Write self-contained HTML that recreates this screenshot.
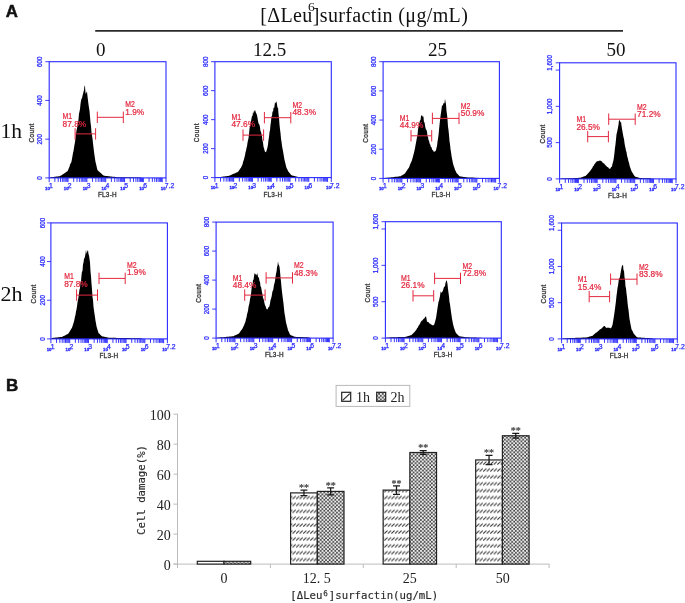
<!DOCTYPE html>
<html><head><meta charset="utf-8"><title>Figure</title>
<style>
html,body{margin:0;padding:0;background:#fff;}
body{width:685px;height:603px;overflow:hidden;position:relative;}
svg{position:absolute;left:0;top:0;display:block;}
text{font-family:"Liberation Sans",sans-serif;}
.yt{font-size:6.3px;fill:#2a2aff;stroke:#2a2aff;stroke-width:0.25px;}
.xb{font-size:4.3px;font-weight:bold;fill:#2a2aff;stroke:#2a2aff;stroke-width:0.3px;}
.xs{font-size:6.8px;fill:#2a2aff;stroke:#2a2aff;stroke-width:0.25px;}
.ax{font-size:6.4px;fill:#333;stroke:#333;stroke-width:0.3px;}
.mk{font-size:8.3px;fill:#e3283f;stroke:#e3283f;stroke-width:0.22px;}
.ser{font-family:"Liberation Serif",serif;fill:#111;}
.by,.bx,.lg{font-family:"Liberation Serif","Noto Serif CJK SC",serif;font-size:14px;fill:#222;}
.st{font-family:"Liberation Serif",serif;font-size:10px;fill:#505050;stroke:#505050;stroke-width:0.25px;}
.mono{font-family:"DejaVu Sans Mono","Liberation Mono",monospace;font-size:10.68px;fill:#2a2a2a;stroke:#2a2a2a;stroke-width:0.15px;}
</style></head><body>
<svg width="685" height="603" viewBox="0 0 685 603">
<defs>
<filter id="idf" x="0" y="0" width="685" height="603" filterUnits="userSpaceOnUse"><feOffset dx="0" dy="0"/></filter>
<pattern id="p1" width="3.53" height="6.9" patternUnits="userSpaceOnUse" x="476.0" y="495.5"><rect width="3.53" height="6.9" fill="#fff"/><path d="M0.25,3.5L3.25,0.5" stroke="#303030" stroke-width="0.95"/></pattern>
<pattern id="p2" width="3.65" height="3.65" patternUnits="userSpaceOnUse" x="317.9" y="491.6"><rect width="3.65" height="3.65" fill="#404040"/><path d="M0.91,-0.49L2.31,0.91L0.91,2.31L-0.49,0.91ZM2.74,1.335L4.14,2.735L2.74,4.135L1.34,2.735Z" fill="#fff"/></pattern>
</defs>
<rect width="685" height="603" fill="#fff"/>
<g filter="url(#idf)">
<text x="5.7" y="16.9" font-size="16.8" font-weight="bold" fill="#111" stroke="#111" stroke-width="0.5">A</text>
<text x="5.9" y="391.1" font-size="17" font-weight="bold" fill="#111" stroke="#111" stroke-width="0.5">B</text>
<text class="ser" x="260.3" y="21.5" font-size="20" letter-spacing="0.36">[ΔLeu]surfactin (μg/mL)</text>
<text class="ser" x="308.1" y="10.6" font-size="13.5">6</text>
<line x1="95.2" y1="30.9" x2="623" y2="30.9" stroke="#2a2a2a" stroke-width="1.6"/>
<text class="ser" x="100.8" y="55.8" font-size="19" text-anchor="middle">0</text>
<text class="ser" x="269.7" y="55.8" font-size="19" text-anchor="middle">12.5</text>
<text class="ser" x="437.5" y="55.8" font-size="19" text-anchor="middle">25</text>
<text class="ser" x="616" y="55.8" font-size="19" text-anchor="middle">50</text>
<text class="ser" x="0.6" y="137.7" font-size="21.5">1h</text>
<text class="ser" x="0.6" y="300.8" font-size="22">2h</text>
<path d="M50.2,177.9 L50.2,177.6 L50,177.2 L50.5,177.2 L51,177.2 L51.5,177.2 L52,177.16 L52.5,177.09 L53,177.02 L53.5,176.94 L54,176.92 L54.5,176.86 L55,176.74 L55.5,176.7 L56,176.61 L56.5,176.6 L57,176.5 L57.5,176.41 L58,176.38 L58.5,176.25 L59,176.18 L59.5,176.21 L60,176.14 L60.5,175.83 L61,175.44 L61.5,175.19 L62,174.89 L62.5,174.52 L63,174.27 L63.5,173.9 L64,173.52 L64.5,173.17 L65,172.92 L65.5,172.59 L66,172.27 L66.5,171.85 L67,171.58 L67.5,171.36 L68,170.21 L68.5,169.02 L69,167.66 L69.5,166.66 L70,164.76 L70.5,163.53 L71,162.88 L71.5,161.4 L72,158.7 L72.5,156.01 L73,152.98 L73.5,151.08 L74,147.7 L74.5,144.75 L75,142.01 L75.5,137.88 L76,133.67 L76.5,130.48 L77,128.22 L77.5,124.73 L78,123.37 L78.5,119.32 L79,113.7 L79.5,111.6 L80,109.06 L80.5,103.9 L81,100.79 L81.5,98.82 L82,98.16 L82.5,95.77 L83,94.08 L83.5,91.64 L84,90.26 L84.5,85.47 L85,86.16 L85.5,93.07 L86,94.03 L86.5,91.77 L87,91.89 L87.5,96.33 L88,100.41 L88.5,104.52 L89,107.83 L89.5,110.96 L90,116.86 L90.5,122.42 L91,125.9 L91.5,132.19 L92,135.59 L92.5,138.47 L93,143.24 L93.5,147.41 L94,151.71 L94.5,155.27 L95,158.75 L95.5,162.07 L96,163.67 L96.5,166.01 L97,168.33 L97.5,170.18 L98,170.59 L98.5,171.15 L99,171.57 L99.5,172.05 L100,172.6 L100.5,172.78 L101,173.31 L101.5,173.84 L102,174.2 L102.5,174.63 L103,175.09 L103.5,175.52 L104,175.75 L104.5,175.79 L105,175.85 L105.5,175.92 L106,176.02 L106.5,176.05 L107,176.11 L107.5,176.11 L108,176.14 L108.5,176.2 L109,176.25 L109.5,176.3 L110,176.41 L110.5,176.41 L111,176.47 L111.5,176.57 L112,176.63 L112.5,176.68 L113,176.68 L113.5,176.76 L114,176.83 L114.5,176.84 L115,176.91 L115.5,176.98 L116,177.03 L116.5,177.06 L117,177.13 L117.5,177.17 L118,177.2 L118.5,177.2 L119,177.2 L119.5,177.2 L120,177.2 L141,177.6 L141,177.9 Z" fill="#000"/>
<rect x="49.2" y="61.7" width="116.8" height="116.2" fill="none" stroke="#2a2aff" stroke-width="1.1"/>
<line x1="45.3" y1="61.7" x2="49.2" y2="61.7" stroke="#2a2aff" stroke-width="0.9"/>
<text class="yt" transform="translate(42,61.7) rotate(-90)" text-anchor="middle">600</text>
<line x1="45.3" y1="100.43" x2="49.2" y2="100.43" stroke="#2a2aff" stroke-width="0.9"/>
<text class="yt" transform="translate(42,100.43) rotate(-90)" text-anchor="middle">400</text>
<line x1="45.3" y1="139.17" x2="49.2" y2="139.17" stroke="#2a2aff" stroke-width="0.9"/>
<text class="yt" transform="translate(42,139.17) rotate(-90)" text-anchor="middle">200</text>
<line x1="45.3" y1="177.9" x2="49.2" y2="177.9" stroke="#2a2aff" stroke-width="0.9"/>
<text class="yt" transform="translate(42,177.9) rotate(-90)" text-anchor="middle">0</text>
<path d="M49.2,177.9v4.3M54.87,177.9v4M58.19,177.9v4M60.54,177.9v4M62.37,177.9v4M63.86,177.9v4M65.12,177.9v4M66.21,177.9v4M67.18,177.9v4M68.04,177.9v4.3M73.71,177.9v4M77.03,177.9v4M79.38,177.9v4M81.21,177.9v4M82.7,177.9v4M83.96,177.9v4M85.05,177.9v4M86.02,177.9v4M86.88,177.9v4.3M92.55,177.9v4M95.87,177.9v4M98.22,177.9v4M100.05,177.9v4M101.54,177.9v4M102.8,177.9v4M103.89,177.9v4M104.85,177.9v4M105.72,177.9v4.3M111.39,177.9v4M114.7,177.9v4M117.06,177.9v4M118.88,177.9v4M120.38,177.9v4M121.64,177.9v4M122.73,177.9v4M123.69,177.9v4M124.55,177.9v4.3M130.23,177.9v4M133.54,177.9v4M135.9,177.9v4M137.72,177.9v4M139.21,177.9v4M140.48,177.9v4M141.57,177.9v4M142.53,177.9v4M143.39,177.9v4.3M149.06,177.9v4M152.38,177.9v4M154.74,177.9v4M156.56,177.9v4M158.05,177.9v4M159.31,177.9v4M160.41,177.9v4M161.37,177.9v4M162.23,177.9v4.3M166,177.9v4.3" stroke="#2a2aff" stroke-width="0.95" fill="none"/>
<text class="xb" x="49.8" y="189.6" text-anchor="end">10</text>
<text class="xs" x="49" y="187.8">1</text>
<text class="xb" x="68.64" y="189.6" text-anchor="end">10</text>
<text class="xs" x="67.84" y="187.8">2</text>
<text class="xb" x="87.48" y="189.6" text-anchor="end">10</text>
<text class="xs" x="86.68" y="187.8">3</text>
<text class="xb" x="106.32" y="189.6" text-anchor="end">10</text>
<text class="xs" x="105.52" y="187.8">4</text>
<text class="xb" x="125.15" y="189.6" text-anchor="end">10</text>
<text class="xs" x="124.35" y="187.8">5</text>
<text class="xb" x="143.99" y="189.6" text-anchor="end">10</text>
<text class="xs" x="143.19" y="187.8">6</text>
<text class="xb" x="165.6" y="189.6" text-anchor="end">10</text>
<text class="xs" x="164.8" y="187.8">7.2</text>
<text class="ax" letter-spacing="0.45" transform="translate(34.2,132.8) rotate(-90)" text-anchor="middle">Count</text>
<text class="ax" letter-spacing="0.25" x="107.4" y="196.9" text-anchor="middle">FL3-H</text>
<path d="M75.1,133.9H95.6M75.1,128.2v11.4M95.6,128.2v11.4" stroke="#e3283f" stroke-width="1" fill="none"/>
<path d="M97.3,117.3H123.3M97.3,111.6v11.4M123.3,111.6v11.4" stroke="#e3283f" stroke-width="1" fill="none"/>
<text class="mk" x="62.6" y="118.5" textLength="9.6" lengthAdjust="spacingAndGlyphs">M1</text>
<text class="mk" x="62.6" y="126.5">87.8%</text>
<text class="mk" x="125.3" y="106.8" textLength="9.6" lengthAdjust="spacingAndGlyphs">M2</text>
<text class="mk" x="125.3" y="114.8">1.9%</text>
<path d="M215.9,177.6 L215.9,177.3 L220,176.9 L220.5,176.9 L221,176.9 L221.5,176.83 L222,176.73 L222.5,176.67 L223,176.6 L223.5,176.56 L224,176.47 L224.5,176.41 L225,176.34 L225.5,176.31 L226,176.22 L226.5,176.16 L227,176.06 L227.5,175.97 L228,175.9 L228.5,175.88 L229,175.81 L229.5,175.61 L230,175.43 L230.5,175.22 L231,174.94 L231.5,174.74 L232,174.52 L232.5,174.2 L233,174.05 L233.5,173.83 L234,173.69 L234.5,173.53 L235,173.23 L235.5,173.07 L236,172.75 L236.5,172.38 L237,172.26 L237.5,172.2 L238,171.75 L238.5,171.24 L239,170.49 L239.5,169.64 L240,168.93 L240.5,168.15 L241,167.64 L241.5,166.48 L242,165.6 L242.5,164.53 L243,162.36 L243.5,160.71 L244,159.3 L244.5,157.24 L245,155.15 L245.5,152.37 L246,150.85 L246.5,147.97 L247,146.32 L247.5,142.76 L248,140.17 L248.5,138.21 L249,133.94 L249.5,128.92 L250,125.73 L250.5,123.46 L251,121.37 L251.5,118.52 L252,115.66 L252.5,116.14 L253,112.04 L253.5,113.68 L254,110.32 L254.5,111.87 L255,109.65 L255.5,111.43 L256,112.99 L256.5,113.71 L257,115.27 L257.5,117.76 L258,120.97 L258.5,123.24 L259,124.13 L259.5,124.73 L260,127.6 L260.5,131.29 L261,131.64 L261.5,134.36 L262,136.38 L262.5,140.62 L263,142.42 L263.5,146.76 L264,148.27 L264.5,150.28 L265,151.69 L265.5,152.06 L266,152.34 L266.5,150.7 L267,149.14 L267.5,147.26 L268,144.38 L268.5,139.95 L269,136.99 L269.5,132.22 L270,130.18 L270.5,124.87 L271,121.19 L271.5,116.37 L272,116.35 L272.5,110.78 L273,112.45 L273.5,107.59 L274,108.58 L274.5,106.04 L275,102.04 L275.5,103.45 L276,102.01 L276.5,101.44 L277,104.56 L277.5,107.88 L278,107.15 L278.5,113.78 L279,117.8 L279.5,124.59 L280,129.37 L280.5,133.06 L281,138.63 L281.5,141.75 L282,145.82 L282.5,148.49 L283,151.11 L283.5,154.11 L284,156.88 L284.5,159.97 L285,161.82 L285.5,163.91 L286,166.02 L286.5,167.94 L287,168.69 L287.5,169.86 L288,170.94 L288.5,171.79 L289,172.35 L289.5,173.12 L290,173.55 L290.5,174.14 L291,174.66 L291.5,175.27 L292,175.4 L292.5,175.62 L293,175.7 L293.5,175.85 L294,176.01 L294.5,176.08 L295,176.24 L295.5,176.37 L296,176.49 L296.5,176.61 L297,176.73 L297.5,176.83 L298,176.88 L298.5,176.88 L299,176.9 L299.5,176.91 L300,176.96 L300.5,176.97 L301,177 L301.5,177 L302,177.02 L302.5,177.03 L303,177.05 L303.5,177.09 L304,177.1 L304.5,177.11 L305,177.15 L305.5,177.16 L306,177.17 L306.5,177.2 L307,177.2 L307.5,177.23 L308,177.25 L308.5,177.27 L309,177.28 L309.5,177.3 L310,177.3 L306.3,177.3 L306.3,177.6 Z" fill="#000"/>
<rect x="214.9" y="61.7" width="116.4" height="115.9" fill="none" stroke="#2a2aff" stroke-width="1.1"/>
<line x1="211" y1="61.7" x2="214.9" y2="61.7" stroke="#2a2aff" stroke-width="0.9"/>
<text class="yt" transform="translate(207.8,61.7) rotate(-90)" text-anchor="middle">800</text>
<line x1="211" y1="90.67" x2="214.9" y2="90.67" stroke="#2a2aff" stroke-width="0.9"/>
<text class="yt" transform="translate(207.8,90.67) rotate(-90)" text-anchor="middle">600</text>
<line x1="211" y1="119.65" x2="214.9" y2="119.65" stroke="#2a2aff" stroke-width="0.9"/>
<text class="yt" transform="translate(207.8,119.65) rotate(-90)" text-anchor="middle">400</text>
<line x1="211" y1="148.62" x2="214.9" y2="148.62" stroke="#2a2aff" stroke-width="0.9"/>
<text class="yt" transform="translate(207.8,148.62) rotate(-90)" text-anchor="middle">200</text>
<line x1="211" y1="177.6" x2="214.9" y2="177.6" stroke="#2a2aff" stroke-width="0.9"/>
<text class="yt" transform="translate(207.8,177.6) rotate(-90)" text-anchor="middle">0</text>
<path d="M214.9,177.6v4.3M220.55,177.6v4M223.86,177.6v4M226.2,177.6v4M228.02,177.6v4M229.51,177.6v4M230.77,177.6v4M231.85,177.6v4M232.82,177.6v4M233.67,177.6v4.3M239.33,177.6v4M242.63,177.6v4M244.98,177.6v4M246.8,177.6v4M248.28,177.6v4M249.54,177.6v4M250.63,177.6v4M251.59,177.6v4M252.45,177.6v4.3M258.1,177.6v4M261.41,177.6v4M263.75,177.6v4M265.57,177.6v4M267.06,177.6v4M268.31,177.6v4M269.4,177.6v4M270.36,177.6v4M271.22,177.6v4.3M276.87,177.6v4M280.18,177.6v4M282.53,177.6v4M284.35,177.6v4M285.83,177.6v4M287.09,177.6v4M288.18,177.6v4M289.14,177.6v4M290,177.6v4.3M295.65,177.6v4M298.95,177.6v4M301.3,177.6v4M303.12,177.6v4M304.61,177.6v4M305.86,177.6v4M306.95,177.6v4M307.91,177.6v4M308.77,177.6v4.3M314.42,177.6v4M317.73,177.6v4M320.07,177.6v4M321.89,177.6v4M323.38,177.6v4M324.64,177.6v4M325.73,177.6v4M326.69,177.6v4M327.55,177.6v4.3M331.3,177.6v4.3" stroke="#2a2aff" stroke-width="0.95" fill="none"/>
<text class="xb" x="215.5" y="189.3" text-anchor="end">10</text>
<text class="xs" x="214.7" y="187.5">1</text>
<text class="xb" x="234.27" y="189.3" text-anchor="end">10</text>
<text class="xs" x="233.47" y="187.5">2</text>
<text class="xb" x="253.05" y="189.3" text-anchor="end">10</text>
<text class="xs" x="252.25" y="187.5">3</text>
<text class="xb" x="271.82" y="189.3" text-anchor="end">10</text>
<text class="xs" x="271.02" y="187.5">4</text>
<text class="xb" x="290.6" y="189.3" text-anchor="end">10</text>
<text class="xs" x="289.8" y="187.5">5</text>
<text class="xb" x="309.37" y="189.3" text-anchor="end">10</text>
<text class="xs" x="308.57" y="187.5">6</text>
<text class="xb" x="330.9" y="189.3" text-anchor="end">10</text>
<text class="xs" x="330.1" y="187.5">7.2</text>
<text class="ax" letter-spacing="0.45" transform="translate(199.4,132.65) rotate(-90)" text-anchor="middle">Count</text>
<text class="ax" letter-spacing="0.25" x="272.9" y="196.6" text-anchor="middle">FL3-H</text>
<path d="M243,135.1H263.6M243,129.4v11.4M263.6,129.4v11.4" stroke="#e3283f" stroke-width="1" fill="none"/>
<path d="M264.4,117.7H290.8M264.4,112v11.4M290.8,112v11.4" stroke="#e3283f" stroke-width="1" fill="none"/>
<text class="mk" x="231.5" y="120" textLength="9.6" lengthAdjust="spacingAndGlyphs">M1</text>
<text class="mk" x="231.5" y="127">47.6%</text>
<text class="mk" x="292.5" y="108" textLength="9.6" lengthAdjust="spacingAndGlyphs">M2</text>
<text class="mk" x="292.5" y="115">48.3%</text>
<path d="M384.1,178.4 L384.1,178.1 L390,177.48 L390.5,177.4 L391,177.36 L391.5,177.28 L392,177.23 L392.5,177.21 L393,177.16 L393.5,177.04 L394,177.03 L394.5,176.97 L395,176.85 L395.5,176.84 L396,176.74 L396.5,176.72 L397,176.65 L397.5,176.64 L398,176.53 L398.5,176.45 L399,176.43 L399.5,176.35 L400,176.3 L400.5,176.29 L401,175.9 L401.5,175.62 L402,175.37 L402.5,175.13 L403,174.66 L403.5,174.44 L404,174.08 L404.5,173.73 L405,173.4 L405.5,172.55 L406,171.97 L406.5,171.03 L407,170.42 L407.5,169.39 L408,168.63 L408.5,168.33 L409,167.4 L409.5,166.17 L410,164.39 L410.5,163.64 L411,162.27 L411.5,161.4 L412,159.93 L412.5,158.31 L413,156.61 L413.5,154.52 L414,152.75 L414.5,150.42 L415,148.26 L415.5,145.25 L416,142.84 L416.5,139.98 L417,137.3 L417.5,135.11 L418,129.68 L418.5,126.69 L419,124.31 L419.5,122.87 L420,120.31 L420.5,120.32 L421,116.33 L421.5,115.57 L422,115.01 L422.5,117 L423,115.83 L423.5,117.33 L424,122.49 L424.5,122.08 L425,125.3 L425.5,128.02 L426,129.48 L426.5,130.02 L427,131.86 L427.5,136.18 L428,136.82 L428.5,140.29 L429,140.61 L429.5,143.34 L430,144.08 L430.5,145.38 L431,147.13 L431.5,147.06 L432,149.14 L432.5,150.37 L433,150 L433.5,151.44 L434,151.66 L434.5,151.81 L435,151.3 L435.5,151.01 L436,150.19 L436.5,147.69 L437,145.98 L437.5,141.63 L438,138.69 L438.5,135.17 L439,129.97 L439.5,125.06 L440,120.18 L440.5,115.88 L441,112.68 L441.5,109.36 L442,105.14 L442.5,105.86 L443,105.06 L443.5,102.63 L444,103.87 L444.5,102.68 L445,98.63 L445.5,101.73 L446,104.24 L446.5,111.07 L447,114.25 L447.5,119.36 L448,126.76 L448.5,129.89 L449,134.88 L449.5,140.97 L450,144.13 L450.5,148.9 L451,151.98 L451.5,155.65 L452,158.38 L452.5,160.91 L453,163.52 L453.5,165.35 L454,166.8 L454.5,168.08 L455,169.66 L455.5,170.71 L456,171.82 L456.5,172.98 L457,173.51 L457.5,174.07 L458,174.6 L458.5,175.1 L459,175.7 L459.5,176.23 L460,176.3 L460.5,176.47 L461,176.48 L461.5,176.53 L462,176.65 L462.5,176.73 L463,176.75 L463.5,176.88 L464,176.96 L464.5,177.01 L465,177.06 L465.5,177.18 L466,177.24 L466.5,177.31 L467,177.35 L467.5,177.45 L468,177.45 L468.5,177.5 L469,177.5 L469.5,177.5 L470,177.5 L470.5,177.53 L471,177.56 L471.5,177.58 L472,177.57 L472.5,177.6 L473,177.58 L473.5,177.59 L474,177.63 L474.5,177.64 L475,177.63 L475.5,177.65 L476,177.65 L476.5,177.68 L477,177.7 L477.5,177.71 L478,177.7 L478.5,177.73 L479,177.74 L479.5,177.75 L480,177.76 L474.4,178.1 L474.4,178.4 Z" fill="#000"/>
<rect x="383.1" y="61.7" width="116.3" height="116.7" fill="none" stroke="#2a2aff" stroke-width="1.1"/>
<line x1="379.2" y1="61.7" x2="383.1" y2="61.7" stroke="#2a2aff" stroke-width="0.9"/>
<text class="yt" transform="translate(376,61.7) rotate(-90)" text-anchor="middle">800</text>
<line x1="379.2" y1="90.88" x2="383.1" y2="90.88" stroke="#2a2aff" stroke-width="0.9"/>
<text class="yt" transform="translate(376,90.88) rotate(-90)" text-anchor="middle">600</text>
<line x1="379.2" y1="120.05" x2="383.1" y2="120.05" stroke="#2a2aff" stroke-width="0.9"/>
<text class="yt" transform="translate(376,120.05) rotate(-90)" text-anchor="middle">400</text>
<line x1="379.2" y1="149.22" x2="383.1" y2="149.22" stroke="#2a2aff" stroke-width="0.9"/>
<text class="yt" transform="translate(376,149.22) rotate(-90)" text-anchor="middle">200</text>
<line x1="379.2" y1="178.4" x2="383.1" y2="178.4" stroke="#2a2aff" stroke-width="0.9"/>
<text class="yt" transform="translate(376,178.4) rotate(-90)" text-anchor="middle">0</text>
<path d="M383.1,178.4v4.3M388.75,178.4v4M392.05,178.4v4M394.39,178.4v4M396.21,178.4v4M397.7,178.4v4M398.95,178.4v4M400.04,178.4v4M401,178.4v4M401.86,178.4v4.3M407.5,178.4v4M410.81,178.4v4M413.15,178.4v4M414.97,178.4v4M416.45,178.4v4M417.71,178.4v4M418.8,178.4v4M419.76,178.4v4M420.62,178.4v4.3M426.26,178.4v4M429.57,178.4v4M431.91,178.4v4M433.73,178.4v4M435.21,178.4v4M436.47,178.4v4M437.56,178.4v4M438.52,178.4v4M439.37,178.4v4.3M445.02,178.4v4M448.32,178.4v4M450.67,178.4v4M452.49,178.4v4M453.97,178.4v4M455.23,178.4v4M456.31,178.4v4M457.27,178.4v4M458.13,178.4v4.3M463.78,178.4v4M467.08,178.4v4M469.43,178.4v4M471.24,178.4v4M472.73,178.4v4M473.98,178.4v4M475.07,178.4v4M476.03,178.4v4M476.89,178.4v4.3M482.54,178.4v4M485.84,178.4v4M488.18,178.4v4M490,178.4v4M491.49,178.4v4M492.74,178.4v4M493.83,178.4v4M494.79,178.4v4M495.65,178.4v4.3M499.4,178.4v4.3" stroke="#2a2aff" stroke-width="0.95" fill="none"/>
<text class="xb" x="383.7" y="190.1" text-anchor="end">10</text>
<text class="xs" x="382.9" y="188.3">1</text>
<text class="xb" x="402.46" y="190.1" text-anchor="end">10</text>
<text class="xs" x="401.66" y="188.3">2</text>
<text class="xb" x="421.22" y="190.1" text-anchor="end">10</text>
<text class="xs" x="420.42" y="188.3">3</text>
<text class="xb" x="439.97" y="190.1" text-anchor="end">10</text>
<text class="xs" x="439.17" y="188.3">4</text>
<text class="xb" x="458.73" y="190.1" text-anchor="end">10</text>
<text class="xs" x="457.93" y="188.3">5</text>
<text class="xb" x="477.49" y="190.1" text-anchor="end">10</text>
<text class="xs" x="476.69" y="188.3">6</text>
<text class="xb" x="498.4" y="190.1" text-anchor="end">10</text>
<text class="xs" x="497.6" y="188.3">7.2</text>
<text class="ax" letter-spacing="0.45" transform="translate(368.2,133.05) rotate(-90)" text-anchor="middle">Count</text>
<text class="ax" letter-spacing="0.25" x="441.05" y="197.4" text-anchor="middle">FL3-H</text>
<path d="M411,135.8H431.7M411,130.1v11.4M431.7,130.1v11.4" stroke="#e3283f" stroke-width="1" fill="none"/>
<path d="M432.4,118.4H459M432.4,112.7v11.4M459,112.7v11.4" stroke="#e3283f" stroke-width="1" fill="none"/>
<text class="mk" x="399.8" y="121.2" textLength="9.6" lengthAdjust="spacingAndGlyphs">M1</text>
<text class="mk" x="399.8" y="128">44.9%</text>
<text class="mk" x="460.8" y="109" textLength="9.6" lengthAdjust="spacingAndGlyphs">M2</text>
<text class="mk" x="460.8" y="116.3">50.9%</text>
<path d="M560.6,178.9 L560.6,178.6 L570,178.2 L570.5,178.2 L571,178.2 L571.5,178.2 L572,178.2 L572.5,178.2 L573,178.17 L573.5,178.14 L574,178.12 L574.5,178.11 L575,178.07 L575.5,178.06 L576,178.03 L576.5,178.01 L577,177.97 L577.5,177.9 L578,177.88 L578.5,177.85 L579,177.82 L579.5,177.84 L580,177.8 L580.5,177.73 L581,177.54 L581.5,177.34 L582,177.15 L582.5,177.05 L583,176.8 L583.5,176.6 L584,176.44 L584.5,176.31 L585,176.07 L585.5,175.96 L586,175.4 L586.5,174.91 L587,174.48 L587.5,174.05 L588,173.36 L588.5,172.97 L589,172.35 L589.5,171.8 L590,171.19 L590.5,170.49 L591,169.64 L591.5,168.99 L592,168.41 L592.5,167.56 L593,166.36 L593.5,166.12 L594,165.31 L594.5,163.98 L595,163.66 L595.5,162.86 L596,162.35 L596.5,161.92 L597,160.78 L597.5,161.48 L598,161.1 L598.5,161.17 L599,160.56 L599.5,160.8 L600,160.69 L600.5,160.53 L601,161.25 L601.5,161.27 L602,161.17 L602.5,162.46 L603,162.98 L603.5,163.31 L604,163.31 L604.5,163.95 L605,164.78 L605.5,165.19 L606,165.81 L606.5,166.08 L607,166.89 L607.5,166.91 L608,167.28 L608.5,167.76 L609,168.41 L609.5,168.78 L610,168.95 L610.5,168.29 L611,167.34 L611.5,166.96 L612,166.15 L612.5,163.82 L613,162.21 L613.5,160.11 L614,156.77 L614.5,152.61 L615,147.85 L615.5,144.14 L616,139.33 L616.5,134.34 L617,132.52 L617.5,130.1 L618,127.56 L618.5,124.72 L619,120.23 L619.5,120.2 L620,120.7 L620.5,122.78 L621,121.62 L621.5,125.73 L622,128.63 L622.5,131.66 L623,134.59 L623.5,137.22 L624,138.91 L624.5,143.02 L625,146.09 L625.5,148.1 L626,150.84 L626.5,151.94 L627,155.57 L627.5,157.28 L628,158.99 L628.5,161.41 L629,162.86 L629.5,165.33 L630,167.1 L630.5,168.31 L631,169.84 L631.5,170.95 L632,172.28 L632.5,172.79 L633,173.58 L633.5,174.43 L634,175.28 L634.5,175.97 L635,176.62 L635.5,176.77 L636,176.91 L636.5,176.98 L637,177.2 L637.5,177.35 L638,177.41 L638.5,177.58 L639,177.7 L639.5,177.88 L640,178 L640.5,178.06 L641,178.06 L641.5,178.08 L642,178.1 L642.5,178.13 L643,178.14 L643.5,178.12 L644,178.13 L644.5,178.14 L645,178.18 L645.5,178.17 L646,178.18 L646.5,178.2 L647,178.2 L647.5,178.22 L648,178.23 L648.5,178.24 L649,178.27 L649.5,178.25 L650,178.26 L650.5,178.31 L651,178.29 L651.5,178.3 L652,178.32 L652.5,178.35 L653,178.34 L653.5,178.37 L654,178.36 L654.5,178.38 L655,178.41 L655.5,178.42 L656,178.41 L656.5,178.43 L657,178.43 L657.5,178.44 L658,178.47 L658.5,178.49 L659,178.47 L659.5,178.51 L660,178.5 L651,178.6 L651,178.9 Z" fill="#000"/>
<rect x="559.6" y="62.8" width="116.4" height="116.1" fill="none" stroke="#2a2aff" stroke-width="1.1"/>
<line x1="555.7" y1="62.8" x2="559.6" y2="62.8" stroke="#2a2aff" stroke-width="0.9"/>
<text class="yt" transform="translate(551.6,62.8) rotate(-90)" text-anchor="middle">1,600</text>
<line x1="555.7" y1="106.34" x2="559.6" y2="106.34" stroke="#2a2aff" stroke-width="0.9"/>
<text class="yt" transform="translate(551.6,106.34) rotate(-90)" text-anchor="middle">1,000</text>
<line x1="555.7" y1="142.62" x2="559.6" y2="142.62" stroke="#2a2aff" stroke-width="0.9"/>
<text class="yt" transform="translate(551.6,142.62) rotate(-90)" text-anchor="middle">500</text>
<line x1="555.7" y1="178.9" x2="559.6" y2="178.9" stroke="#2a2aff" stroke-width="0.9"/>
<text class="yt" transform="translate(551.6,178.9) rotate(-90)" text-anchor="middle">0</text>
<line x1="555.7" y1="70.06" x2="559.6" y2="70.06" stroke="#2a2aff" stroke-width="0.9"/>
<path d="M559.6,178.9v4.3M565.25,178.9v4M568.56,178.9v4M570.9,178.9v4M572.72,178.9v4M574.21,178.9v4M575.47,178.9v4M576.55,178.9v4M577.52,178.9v4M578.37,178.9v4.3M584.03,178.9v4M587.33,178.9v4M589.68,178.9v4M591.5,178.9v4M592.98,178.9v4M594.24,178.9v4M595.33,178.9v4M596.29,178.9v4M597.15,178.9v4.3M602.8,178.9v4M606.11,178.9v4M608.45,178.9v4M610.27,178.9v4M611.76,178.9v4M613.01,178.9v4M614.1,178.9v4M615.06,178.9v4M615.92,178.9v4.3M621.57,178.9v4M624.88,178.9v4M627.23,178.9v4M629.05,178.9v4M630.53,178.9v4M631.79,178.9v4M632.88,178.9v4M633.84,178.9v4M634.7,178.9v4.3M640.35,178.9v4M643.65,178.9v4M646,178.9v4M647.82,178.9v4M649.31,178.9v4M650.56,178.9v4M651.65,178.9v4M652.61,178.9v4M653.47,178.9v4.3M659.12,178.9v4M662.43,178.9v4M664.77,178.9v4M666.59,178.9v4M668.08,178.9v4M669.34,178.9v4M670.43,178.9v4M671.39,178.9v4M672.25,178.9v4.3M676,178.9v4.3" stroke="#2a2aff" stroke-width="0.95" fill="none"/>
<text class="xb" x="560.2" y="190.6" text-anchor="end">10</text>
<text class="xs" x="559.4" y="188.8">1</text>
<text class="xb" x="578.97" y="190.6" text-anchor="end">10</text>
<text class="xs" x="578.17" y="188.8">2</text>
<text class="xb" x="597.75" y="190.6" text-anchor="end">10</text>
<text class="xs" x="596.95" y="188.8">3</text>
<text class="xb" x="616.52" y="190.6" text-anchor="end">10</text>
<text class="xs" x="615.72" y="188.8">4</text>
<text class="xb" x="635.3" y="190.6" text-anchor="end">10</text>
<text class="xs" x="634.5" y="188.8">5</text>
<text class="xb" x="654.07" y="190.6" text-anchor="end">10</text>
<text class="xs" x="653.27" y="188.8">6</text>
<text class="xb" x="675.8" y="190.6" text-anchor="end">10</text>
<text class="xs" x="675" y="188.8">7.2</text>
<text class="ax" letter-spacing="0.45" transform="translate(544.6,133.85) rotate(-90)" text-anchor="middle">Count</text>
<text class="ax" letter-spacing="0.25" x="617.6" y="197.9" text-anchor="middle">FL3-H</text>
<path d="M587.7,136.6H608.4M587.7,130.9v11.4M608.4,130.9v11.4" stroke="#e3283f" stroke-width="1" fill="none"/>
<path d="M608.7,119.2H635.2M608.7,113.5v11.4M635.2,113.5v11.4" stroke="#e3283f" stroke-width="1" fill="none"/>
<text class="mk" x="576.4" y="121.9" textLength="9.6" lengthAdjust="spacingAndGlyphs">M1</text>
<text class="mk" x="576.4" y="129.7">26.5%</text>
<text class="mk" x="637.1" y="109.8" textLength="9.6" lengthAdjust="spacingAndGlyphs">M2</text>
<text class="mk" x="637.1" y="117.2">71.2%</text>
<path d="M51.9,338.9 L51.9,338.6 L51.49,338.05 L51.99,337.99 L52.49,337.93 L52.99,337.86 L53.49,337.82 L53.99,337.75 L54.49,337.75 L54.99,337.66 L55.49,337.57 L55.99,337.53 L56.49,337.45 L56.99,337.47 L57.49,337.38 L57.99,337.34 L58.49,337.26 L58.99,337.2 L59.49,337.2 L59.99,337.12 L60.49,337.06 L60.99,336.93 L61.49,336.89 L61.99,336.88 L62.49,336.56 L62.99,336.42 L63.49,336.11 L63.99,335.96 L64.49,335.75 L64.99,335.33 L65.49,335.24 L65.99,335 L66.49,334.58 L66.99,334.36 L67.49,334.28 L67.99,333.85 L68.49,333.41 L68.99,332.56 L69.49,331.95 L69.99,330.82 L70.49,330.13 L70.99,329.16 L71.49,328.38 L71.99,327.87 L72.49,326.18 L72.99,324.69 L73.49,323.08 L73.99,321.53 L74.49,319.18 L74.99,316.4 L75.49,314.88 L75.99,311.45 L76.49,309.53 L76.99,306.54 L77.49,302.4 L77.99,300.06 L78.49,297.33 L78.99,293.58 L79.49,289.6 L79.99,288.25 L80.49,281.84 L80.99,281.61 L81.49,275.48 L81.99,271.45 L82.49,271.2 L82.99,264.28 L83.49,262.74 L83.99,258.63 L84.49,258.36 L84.99,256.44 L85.49,254 L85.99,249.39 L86.49,253.63 L86.99,251.99 L87.49,250.97 L87.99,250.06 L88.49,254.12 L88.99,255.51 L89.49,258.66 L89.99,262.6 L90.49,271.3 L90.99,276.3 L91.49,283.57 L91.99,289.21 L92.49,297.02 L92.99,299.8 L93.49,306.63 L93.99,310.19 L94.49,313.63 L94.99,317.03 L95.49,320.74 L95.99,323.18 L96.49,326.33 L96.99,328.09 L97.49,329.68 L97.99,331.33 L98.49,332.94 L98.99,333.46 L99.49,333.81 L99.99,334.25 L100.49,334.99 L100.99,335.53 L101.49,335.87 L101.99,336.31 L102.49,336.43 L102.99,336.56 L103.49,336.61 L103.99,336.68 L104.49,336.84 L104.99,336.94 L105.49,337.09 L105.99,337.1 L106.49,337.29 L106.99,337.35 L107.49,337.43 L107.99,337.59 L108.49,337.65 L108.99,337.73 L109.49,337.76 L109.99,337.76 L110.49,337.81 L110.99,337.8 L111.49,337.82 L111.99,337.79 L112.49,337.83 L112.99,337.83 L113.49,337.8 L113.99,337.82 L114.49,337.82 L114.99,337.86 L115.49,337.87 L115.99,337.86 L116.49,337.88 L116.99,337.9 L117.49,337.9 L117.99,337.93 L118.49,337.92 L118.99,337.89 L119.49,337.9 L119.99,337.93 L120.49,337.95 L120.99,337.96 L121.49,337.98 L121.99,337.98 L122.49,337.96 L122.99,337.97 L123.49,338 L123.99,337.99 L124.49,338 L124.99,338.01 L125.49,338.02 L125.99,338.02 L126.49,338.05 L126.99,338.04 L127.49,338.07 L127.99,338.07 L128.49,338.07 L128.99,338.08 L129.49,338.11 L129.99,338.1 L130.49,338.12 L130.99,338.14 L131.49,338.18 L131.99,338.16 L132.49,338.19 L132.99,338.18 L133.49,338.2 L133.99,338.2 L134.49,338.22 L134.99,338.23 L135.49,338.26 L135.99,338.26 L136.49,338.26 L136.99,338.27 L137.49,338.3 L137.99,338.3 L138.49,338.31 L138.99,338.33 L139.49,338.33 L139.99,338.34 L142.4,338.6 L142.4,338.9 Z" fill="#000"/>
<rect x="50.9" y="222.9" width="116.5" height="116" fill="none" stroke="#2a2aff" stroke-width="1.1"/>
<line x1="47" y1="222.9" x2="50.9" y2="222.9" stroke="#2a2aff" stroke-width="0.9"/>
<text class="yt" transform="translate(44.7,222.9) rotate(-90)" text-anchor="middle">600</text>
<line x1="47" y1="261.57" x2="50.9" y2="261.57" stroke="#2a2aff" stroke-width="0.9"/>
<text class="yt" transform="translate(44.7,261.57) rotate(-90)" text-anchor="middle">400</text>
<line x1="47" y1="300.23" x2="50.9" y2="300.23" stroke="#2a2aff" stroke-width="0.9"/>
<text class="yt" transform="translate(44.7,300.23) rotate(-90)" text-anchor="middle">200</text>
<line x1="47" y1="338.9" x2="50.9" y2="338.9" stroke="#2a2aff" stroke-width="0.9"/>
<text class="yt" transform="translate(44.7,338.9) rotate(-90)" text-anchor="middle">0</text>
<path d="M50.9,338.9v4.3M56.56,338.9v4M59.87,338.9v4M62.21,338.9v4M64.03,338.9v4M65.52,338.9v4M66.78,338.9v4M67.87,338.9v4M68.83,338.9v4M69.69,338.9v4.3M75.35,338.9v4M78.66,338.9v4M81,338.9v4M82.82,338.9v4M84.31,338.9v4M85.57,338.9v4M86.66,338.9v4M87.62,338.9v4M88.48,338.9v4.3M94.14,338.9v4M97.45,338.9v4M99.79,338.9v4M101.61,338.9v4M103.1,338.9v4M104.36,338.9v4M105.45,338.9v4M106.41,338.9v4M107.27,338.9v4.3M112.93,338.9v4M116.24,338.9v4M118.58,338.9v4M120.4,338.9v4M121.89,338.9v4M123.15,338.9v4M124.24,338.9v4M125.2,338.9v4M126.06,338.9v4.3M131.72,338.9v4M135.03,338.9v4M137.37,338.9v4M139.2,338.9v4M140.68,338.9v4M141.94,338.9v4M143.03,338.9v4M143.99,338.9v4M144.85,338.9v4.3M150.51,338.9v4M153.82,338.9v4M156.16,338.9v4M157.99,338.9v4M159.47,338.9v4M160.73,338.9v4M161.82,338.9v4M162.78,338.9v4M163.64,338.9v4.3M167.4,338.9v4.3" stroke="#2a2aff" stroke-width="0.95" fill="none"/>
<text class="xb" x="51.5" y="350.6" text-anchor="end">10</text>
<text class="xs" x="50.7" y="348.8">1</text>
<text class="xb" x="70.29" y="350.6" text-anchor="end">10</text>
<text class="xs" x="69.49" y="348.8">2</text>
<text class="xb" x="89.08" y="350.6" text-anchor="end">10</text>
<text class="xs" x="88.28" y="348.8">3</text>
<text class="xb" x="107.87" y="350.6" text-anchor="end">10</text>
<text class="xs" x="107.07" y="348.8">4</text>
<text class="xb" x="126.66" y="350.6" text-anchor="end">10</text>
<text class="xs" x="125.86" y="348.8">5</text>
<text class="xb" x="145.45" y="350.6" text-anchor="end">10</text>
<text class="xs" x="144.65" y="348.8">6</text>
<text class="xb" x="167" y="350.6" text-anchor="end">10</text>
<text class="xs" x="166.2" y="348.8">7.2</text>
<text class="ax" letter-spacing="0.45" transform="translate(35.6,293.9) rotate(-90)" text-anchor="middle">Count</text>
<text class="ax" letter-spacing="0.25" x="108.95" y="357.9" text-anchor="middle">FL3-H</text>
<path d="M76.6,295.1H97.5M76.6,289.4v11.4M97.5,289.4v11.4" stroke="#e3283f" stroke-width="1" fill="none"/>
<path d="M99,278.4H125.2M99,272.7v11.4M125.2,272.7v11.4" stroke="#e3283f" stroke-width="1" fill="none"/>
<text class="mk" x="64.2" y="279.3" textLength="9.6" lengthAdjust="spacingAndGlyphs">M1</text>
<text class="mk" x="64.2" y="287">87.8%</text>
<text class="mk" x="126.9" y="268" textLength="9.6" lengthAdjust="spacingAndGlyphs">M2</text>
<text class="mk" x="126.9" y="275.3">1.9%</text>
<path d="M217.1,338.1 L217.1,337.8 L222,337.3 L222.5,337.25 L223,337.22 L223.5,337.19 L224,337.16 L224.5,337.07 L225,337.04 L225.5,336.97 L226,336.95 L226.5,336.87 L227,336.86 L227.5,336.78 L228,336.73 L228.5,336.71 L229,336.66 L229.5,336.6 L230,336.6 L230.5,336.52 L231,336.44 L231.5,336.45 L232,336.35 L232.5,336.31 L233,336.25 L233.5,336.14 L234,335.94 L234.5,335.61 L235,335.36 L235.5,335.19 L236,335.02 L236.5,334.76 L237,334.44 L237.5,334.28 L238,333.88 L238.5,333.73 L239,333.49 L239.5,332.68 L240,332.11 L240.5,331.21 L241,330.53 L241.5,330.03 L242,329.29 L242.5,328.58 L243,327.53 L243.5,326.14 L244,325.59 L244.5,324.09 L245,322.63 L245.5,321.55 L246,319.11 L246.5,317.59 L247,314.4 L247.5,312.74 L248,310.76 L248.5,307.12 L249,305.11 L249.5,302.68 L250,299.14 L250.5,297.1 L251,294.05 L251.5,289.14 L252,286.33 L252.5,285.28 L253,279.87 L253.5,280.05 L254,276.45 L254.5,273.22 L255,273.54 L255.5,274.42 L256,274.35 L256.5,274.51 L257,275.72 L257.5,272.59 L258,276.94 L258.5,277.29 L259,277.88 L259.5,281.14 L260,281.7 L260.5,286.58 L261,286.85 L261.5,289.51 L262,292.48 L262.5,294.25 L263,297.68 L263.5,298.75 L264,300.78 L264.5,303.32 L265,305.31 L265.5,305.94 L266,307.57 L266.5,309.21 L267,309.12 L267.5,309.46 L268,308.3 L268.5,306.99 L269,307.36 L269.5,305.65 L270,303.41 L270.5,300.33 L271,298.76 L271.5,296.93 L272,294.33 L272.5,290.91 L273,290.71 L273.5,288.23 L274,284.73 L274.5,283.22 L275,281.05 L275.5,277.01 L276,273.67 L276.5,271.71 L277,267.44 L277.5,265.57 L278,261.34 L278.5,264.6 L279,265.18 L279.5,266.72 L280,271.08 L280.5,277.26 L281,281.44 L281.5,287.34 L282,291.74 L282.5,295.93 L283,299.68 L283.5,303.5 L284,308.76 L284.5,313.15 L285,315.7 L285.5,319.33 L286,322.45 L286.5,324.14 L287,326.57 L287.5,328.09 L288,330.2 L288.5,331.18 L289,332.24 L289.5,333.48 L290,334.43 L290.5,335.05 L291,335.3 L291.5,335.51 L292,335.65 L292.5,335.84 L293,336.07 L293.5,336.26 L294,336.48 L294.5,336.64 L295,336.84 L295.5,336.87 L296,336.89 L296.5,336.94 L297,336.92 L297.5,336.98 L298,336.99 L298.5,336.98 L299,337 L299.5,336.99 L300,337.03 L300.5,337.04 L301,337.1 L301.5,337.07 L302,337.13 L302.5,337.12 L303,337.12 L303.5,337.14 L304,337.16 L304.5,337.2 L305,337.2 L305.5,337.22 L306,337.27 L306.5,337.25 L307,337.27 L307.5,337.31 L308,337.31 L308.5,337.34 L309,337.37 L309.5,337.36 L310,337.41 L310.5,337.4 L311,337.41 L311.5,337.45 L312,337.45 L308.1,337.8 L308.1,338.1 Z" fill="#000"/>
<rect x="216.1" y="222.1" width="117" height="116" fill="none" stroke="#2a2aff" stroke-width="1.1"/>
<line x1="212.2" y1="222.1" x2="216.1" y2="222.1" stroke="#2a2aff" stroke-width="0.9"/>
<text class="yt" transform="translate(208.9,222.1) rotate(-90)" text-anchor="middle">800</text>
<line x1="212.2" y1="251.1" x2="216.1" y2="251.1" stroke="#2a2aff" stroke-width="0.9"/>
<text class="yt" transform="translate(208.9,251.1) rotate(-90)" text-anchor="middle">600</text>
<line x1="212.2" y1="280.1" x2="216.1" y2="280.1" stroke="#2a2aff" stroke-width="0.9"/>
<text class="yt" transform="translate(208.9,280.1) rotate(-90)" text-anchor="middle">400</text>
<line x1="212.2" y1="309.1" x2="216.1" y2="309.1" stroke="#2a2aff" stroke-width="0.9"/>
<text class="yt" transform="translate(208.9,309.1) rotate(-90)" text-anchor="middle">200</text>
<line x1="212.2" y1="338.1" x2="216.1" y2="338.1" stroke="#2a2aff" stroke-width="0.9"/>
<text class="yt" transform="translate(208.9,338.1) rotate(-90)" text-anchor="middle">0</text>
<path d="M216.1,338.1v4.3M221.78,338.1v4M225.1,338.1v4M227.46,338.1v4M229.29,338.1v4M230.78,338.1v4M232.05,338.1v4M233.14,338.1v4M234.11,338.1v4M234.97,338.1v4.3M240.65,338.1v4M243.97,338.1v4M246.33,338.1v4M248.16,338.1v4M249.66,338.1v4M250.92,338.1v4M252.01,338.1v4M252.98,338.1v4M253.84,338.1v4.3M259.52,338.1v4M262.85,338.1v4M265.2,338.1v4M267.03,338.1v4M268.53,338.1v4M269.79,338.1v4M270.88,338.1v4M271.85,338.1v4M272.71,338.1v4.3M278.39,338.1v4M281.72,338.1v4M284.07,338.1v4M285.9,338.1v4M287.4,338.1v4M288.66,338.1v4M289.76,338.1v4M290.72,338.1v4M291.58,338.1v4.3M297.26,338.1v4M300.59,338.1v4M302.95,338.1v4M304.77,338.1v4M306.27,338.1v4M307.53,338.1v4M308.63,338.1v4M309.59,338.1v4M310.45,338.1v4.3M316.14,338.1v4M319.46,338.1v4M321.82,338.1v4M323.65,338.1v4M325.14,338.1v4M326.4,338.1v4M327.5,338.1v4M328.46,338.1v4M329.33,338.1v4.3M333.1,338.1v4.3" stroke="#2a2aff" stroke-width="0.95" fill="none"/>
<text class="xb" x="216.7" y="349.8" text-anchor="end">10</text>
<text class="xs" x="215.9" y="348">1</text>
<text class="xb" x="235.57" y="349.8" text-anchor="end">10</text>
<text class="xs" x="234.77" y="348">2</text>
<text class="xb" x="254.44" y="349.8" text-anchor="end">10</text>
<text class="xs" x="253.64" y="348">3</text>
<text class="xb" x="273.31" y="349.8" text-anchor="end">10</text>
<text class="xs" x="272.51" y="348">4</text>
<text class="xb" x="292.18" y="349.8" text-anchor="end">10</text>
<text class="xs" x="291.38" y="348">5</text>
<text class="xb" x="311.05" y="349.8" text-anchor="end">10</text>
<text class="xs" x="310.25" y="348">6</text>
<text class="xb" x="332.7" y="349.8" text-anchor="end">10</text>
<text class="xs" x="331.9" y="348">7.2</text>
<text class="ax" letter-spacing="0.45" transform="translate(201.4,293.1) rotate(-90)" text-anchor="middle">Count</text>
<text class="ax" letter-spacing="0.25" x="274.4" y="357.1" text-anchor="middle">FL3-H</text>
<path d="M244.7,295.1H265.1M244.7,289.4v11.4M265.1,289.4v11.4" stroke="#e3283f" stroke-width="1" fill="none"/>
<path d="M266.1,277.9H292.5M266.1,272.2v11.4M292.5,272.2v11.4" stroke="#e3283f" stroke-width="1" fill="none"/>
<text class="mk" x="232.8" y="280.8" textLength="9.6" lengthAdjust="spacingAndGlyphs">M1</text>
<text class="mk" x="232.8" y="287.7">48.4%</text>
<text class="mk" x="294" y="268.4" textLength="9.6" lengthAdjust="spacingAndGlyphs">M2</text>
<text class="mk" x="294" y="276">48.3%</text>
<path d="M386.4,338.1 L386.4,337.8 L392,337.32 L392.5,337.31 L393,337.27 L393.5,337.28 L394,337.24 L394.5,337.24 L395,337.24 L395.5,337.2 L396,337.21 L396.5,337.17 L397,337.17 L397.5,337.15 L398,337.12 L398.5,337.08 L399,337.1 L399.5,337.08 L400,337.04 L400.5,337 L401,337.01 L401.5,337 L402,336.95 L402.5,336.99 L403,336.92 L403.5,336.94 L404,336.94 L404.5,336.92 L405,336.89 L405.5,336.82 L406,336.72 L406.5,336.54 L407,336.38 L407.5,336.26 L408,336.09 L408.5,336 L409,335.86 L409.5,335.69 L410,335.47 L410.5,335.36 L411,335.23 L411.5,334.96 L412,334.49 L412.5,334.03 L413,333.4 L413.5,332.92 L414,332.56 L414.5,331.95 L415,331.47 L415.5,330.82 L416,330.28 L416.5,329.62 L417,328.37 L417.5,328 L418,326.94 L418.5,325.83 L419,325.42 L419.5,324.33 L420,323.89 L420.5,322.49 L421,321.56 L421.5,321.17 L422,320.36 L422.5,320.45 L423,319.53 L423.5,319.12 L424,318.58 L424.5,318.17 L425,317.14 L425.5,316.44 L426,316.48 L426.5,318.58 L427,321.71 L427.5,321.73 L428,322.12 L428.5,322.13 L429,322.63 L429.5,323.45 L430,323.69 L430.5,323.78 L431,324.66 L431.5,324.62 L432,325.04 L432.5,325.25 L433,325.45 L433.5,325.07 L434,325.06 L434.5,323.53 L435,321.95 L435.5,319.99 L436,318.16 L436.5,314.71 L437,311.56 L437.5,307.96 L438,305.02 L438.5,301.87 L439,300.74 L439.5,298.14 L440,295.99 L440.5,292.29 L441,291.38 L441.5,292.93 L442,292.2 L442.5,291.39 L443,290.44 L443.5,288.46 L444,286.89 L444.5,286.66 L445,285.88 L445.5,282.88 L446,281.39 L446.5,280.37 L447,281.29 L447.5,284.37 L448,288.91 L448.5,292.7 L449,296.61 L449.5,302.04 L450,304.25 L450.5,308.26 L451,311.67 L451.5,315.35 L452,318.78 L452.5,321.26 L453,324 L453.5,326.04 L454,327.82 L454.5,329.19 L455,330.49 L455.5,331.89 L456,333.01 L456.5,333.61 L457,334.13 L457.5,334.6 L458,335.12 L458.5,335.59 L459,336.15 L459.5,336.28 L460,336.37 L460.5,336.49 L461,336.55 L461.5,336.61 L462,336.68 L462.5,336.77 L463,336.78 L463.5,336.84 L464,336.95 L464.5,337.02 L465,337.11 L465.5,337.18 L466,337.23 L466.5,337.31 L467,337.31 L467.5,337.35 L468,337.36 L468.5,337.33 L469,337.36 L469.5,337.38 L470,337.38 L470.5,337.41 L471,337.4 L471.5,337.39 L472,337.4 L472.5,337.42 L473,337.45 L473.5,337.45 L474,337.47 L474.5,337.46 L475,337.47 L475.5,337.48 L476,337.5 L476.5,337.52 L477,337.5 L477.5,337.51 L478,337.52 L478.5,337.53 L479,337.54 L479.5,337.56 L480,337.58 L480.5,337.58 L481,337.6 L481.5,337.62 L482,337.63 L476.3,337.8 L476.3,338.1 Z" fill="#000"/>
<rect x="385.4" y="221.7" width="115.9" height="116.4" fill="none" stroke="#2a2aff" stroke-width="1.1"/>
<line x1="381.5" y1="221.7" x2="385.4" y2="221.7" stroke="#2a2aff" stroke-width="0.9"/>
<text class="yt" transform="translate(378,221.7) rotate(-90)" text-anchor="middle">1,600</text>
<line x1="381.5" y1="265.35" x2="385.4" y2="265.35" stroke="#2a2aff" stroke-width="0.9"/>
<text class="yt" transform="translate(378,265.35) rotate(-90)" text-anchor="middle">1,000</text>
<line x1="381.5" y1="301.73" x2="385.4" y2="301.73" stroke="#2a2aff" stroke-width="0.9"/>
<text class="yt" transform="translate(378,301.73) rotate(-90)" text-anchor="middle">500</text>
<line x1="381.5" y1="338.1" x2="385.4" y2="338.1" stroke="#2a2aff" stroke-width="0.9"/>
<text class="yt" transform="translate(378,338.1) rotate(-90)" text-anchor="middle">0</text>
<line x1="381.5" y1="228.97" x2="385.4" y2="228.97" stroke="#2a2aff" stroke-width="0.9"/>
<path d="M385.4,338.1v4.3M391.03,338.1v4M394.32,338.1v4M396.65,338.1v4M398.47,338.1v4M399.95,338.1v4M401.2,338.1v4M402.28,338.1v4M403.24,338.1v4M404.09,338.1v4.3M409.72,338.1v4M413.01,338.1v4M415.35,338.1v4M417.16,338.1v4M418.64,338.1v4M419.89,338.1v4M420.98,338.1v4M421.93,338.1v4M422.79,338.1v4.3M428.41,338.1v4M431.71,338.1v4M434.04,338.1v4M435.85,338.1v4M437.33,338.1v4M438.58,338.1v4M439.67,338.1v4M440.63,338.1v4M441.48,338.1v4.3M447.11,338.1v4M450.4,338.1v4M452.74,338.1v4M454.55,338.1v4M456.03,338.1v4M457.28,338.1v4M458.36,338.1v4M459.32,338.1v4M460.17,338.1v4.3M465.8,338.1v4M469.09,338.1v4M471.43,338.1v4M473.24,338.1v4M474.72,338.1v4M475.97,338.1v4M477.06,338.1v4M478.01,338.1v4M478.87,338.1v4.3M484.5,338.1v4M487.79,338.1v4M490.12,338.1v4M491.93,338.1v4M493.41,338.1v4M494.67,338.1v4M495.75,338.1v4M496.71,338.1v4M497.56,338.1v4.3M501.3,338.1v4.3" stroke="#2a2aff" stroke-width="0.95" fill="none"/>
<text class="xb" x="386" y="349.8" text-anchor="end">10</text>
<text class="xs" x="385.2" y="348">1</text>
<text class="xb" x="404.69" y="349.8" text-anchor="end">10</text>
<text class="xs" x="403.89" y="348">2</text>
<text class="xb" x="423.39" y="349.8" text-anchor="end">10</text>
<text class="xs" x="422.59" y="348">3</text>
<text class="xb" x="442.08" y="349.8" text-anchor="end">10</text>
<text class="xs" x="441.28" y="348">4</text>
<text class="xb" x="460.77" y="349.8" text-anchor="end">10</text>
<text class="xs" x="459.97" y="348">5</text>
<text class="xb" x="479.47" y="349.8" text-anchor="end">10</text>
<text class="xs" x="478.67" y="348">6</text>
<text class="xb" x="500.9" y="349.8" text-anchor="end">10</text>
<text class="xs" x="500.1" y="348">7.2</text>
<text class="ax" letter-spacing="0.45" transform="translate(369.5,292.9) rotate(-90)" text-anchor="middle">Count</text>
<text class="ax" letter-spacing="0.25" x="443.15" y="357.1" text-anchor="middle">FL3-H</text>
<path d="M413,295.8H433.7M413,290.1v11.4M433.7,290.1v11.4" stroke="#e3283f" stroke-width="1" fill="none"/>
<path d="M434.6,278.4H460.5M434.6,272.7v11.4M460.5,272.7v11.4" stroke="#e3283f" stroke-width="1" fill="none"/>
<text class="mk" x="401" y="280.5" textLength="9.6" lengthAdjust="spacingAndGlyphs">M1</text>
<text class="mk" x="401" y="288.4">26.1%</text>
<text class="mk" x="462.5" y="268.5" textLength="9.6" lengthAdjust="spacingAndGlyphs">M2</text>
<text class="mk" x="462.5" y="275.9">72.8%</text>
<path d="M562.6,338.9 L562.6,338.6 L570,338.07 L570.5,338.02 L571,338.04 L571.5,337.99 L572,338.01 L572.5,337.98 L573,337.92 L573.5,337.95 L574,337.91 L574.5,337.9 L575,337.88 L575.5,337.86 L576,337.86 L576.5,337.8 L577,337.83 L577.5,337.8 L578,337.8 L578.5,337.77 L579,337.74 L579.5,337.69 L580,337.7 L580.5,337.71 L581,337.68 L581.5,337.6 L582,337.66 L582.5,337.6 L583,337.6 L583.5,337.56 L584,337.56 L584.5,337.52 L585,337.51 L585.5,337.48 L586,337.44 L586.5,337.43 L587,337.34 L587.5,337.21 L588,336.98 L588.5,336.89 L589,336.79 L589.5,336.55 L590,336.47 L590.5,336.3 L591,336.14 L591.5,336.1 L592,335.95 L592.5,335.66 L593,335.39 L593.5,334.83 L594,334.58 L594.5,334.01 L595,333.58 L595.5,333.07 L596,332.69 L596.5,332.39 L597,332.11 L597.5,331.74 L598,331.17 L598.5,330.78 L599,330.6 L599.5,329.77 L600,329.58 L600.5,329.06 L601,328.89 L601.5,328.4 L602,328.09 L602.5,327.39 L603,326.98 L603.5,326.39 L604,325.95 L604.5,325.95 L605,326.33 L605.5,327.26 L606,327.51 L606.5,328.08 L607,327.75 L607.5,327.48 L608,327.94 L608.5,327.5 L609,327.76 L609.5,328.09 L610,327.78 L610.5,328.25 L611,328.55 L611.5,327.27 L612,326.18 L612.5,324.8 L613,321.91 L613.5,318.95 L614,315.73 L614.5,312.25 L615,308.66 L615.5,304.78 L616,300.83 L616.5,295.86 L617,292.3 L617.5,287.88 L618,285.71 L618.5,281.95 L619,277.92 L619.5,278.75 L620,276.49 L620.5,273.57 L621,270.48 L621.5,267.95 L622,265.45 L622.5,265.42 L623,264.46 L623.5,270.58 L624,270.4 L624.5,277.22 L625,279.21 L625.5,286.53 L626,288.14 L626.5,293.27 L627,296.93 L627.5,302.13 L628,307.09 L628.5,309.74 L629,314.62 L629.5,319.05 L630,321.53 L630.5,324.14 L631,326.66 L631.5,329.32 L632,330.29 L632.5,331.03 L633,332.06 L633.5,333.14 L634,334 L634.5,334.59 L635,335.1 L635.5,335.65 L636,336.17 L636.5,336.67 L637,337.18 L637.5,337.37 L638,337.38 L638.5,337.44 L639,337.42 L639.5,337.46 L640,337.51 L640.5,337.59 L641,337.6 L641.5,337.63 L642,337.69 L642.5,337.66 L643,337.71 L643.5,337.77 L644,337.79 L644.5,337.86 L645,337.89 L645.5,337.91 L646,337.93 L646.5,337.97 L647,338.04 L647.5,338.05 L648,338.05 L648.5,338.07 L649,338.07 L649.5,338.08 L650,338.13 L650.5,338.14 L651,338.14 L651.5,338.13 L652,338.17 L652.5,338.16 L653,338.17 L653.5,338.2 L654,338.21 L654.5,338.21 L655,338.23 L655.5,338.26 L656,338.25 L656.5,338.29 L657,338.29 L657.5,338.28 L658,338.3 L658.5,338.33 L659,338.34 L659.5,338.34 L660,338.35 L652.3,338.6 L652.3,338.9 Z" fill="#000"/>
<rect x="561.6" y="223" width="115.7" height="115.9" fill="none" stroke="#2a2aff" stroke-width="1.1"/>
<line x1="557.7" y1="223" x2="561.6" y2="223" stroke="#2a2aff" stroke-width="0.9"/>
<text class="yt" transform="translate(553.6,223) rotate(-90)" text-anchor="middle">1,600</text>
<line x1="557.7" y1="266.46" x2="561.6" y2="266.46" stroke="#2a2aff" stroke-width="0.9"/>
<text class="yt" transform="translate(553.6,266.46) rotate(-90)" text-anchor="middle">1,000</text>
<line x1="557.7" y1="302.68" x2="561.6" y2="302.68" stroke="#2a2aff" stroke-width="0.9"/>
<text class="yt" transform="translate(553.6,302.68) rotate(-90)" text-anchor="middle">500</text>
<line x1="557.7" y1="338.9" x2="561.6" y2="338.9" stroke="#2a2aff" stroke-width="0.9"/>
<text class="yt" transform="translate(553.6,338.9) rotate(-90)" text-anchor="middle">0</text>
<line x1="557.7" y1="230.24" x2="561.6" y2="230.24" stroke="#2a2aff" stroke-width="0.9"/>
<path d="M561.6,338.9v4.3M567.22,338.9v4M570.5,338.9v4M572.84,338.9v4M574.64,338.9v4M576.12,338.9v4M577.37,338.9v4M578.45,338.9v4M579.41,338.9v4M580.26,338.9v4.3M585.88,338.9v4M589.16,338.9v4M591.5,338.9v4M593.3,338.9v4M594.78,338.9v4M596.03,338.9v4M597.11,338.9v4M598.07,338.9v4M598.92,338.9v4.3M604.54,338.9v4M607.83,338.9v4M610.16,338.9v4M611.97,338.9v4M613.44,338.9v4M614.69,338.9v4M615.78,338.9v4M616.73,338.9v4M617.58,338.9v4.3M623.2,338.9v4M626.49,338.9v4M628.82,338.9v4M630.63,338.9v4M632.11,338.9v4M633.35,338.9v4M634.44,338.9v4M635.39,338.9v4M636.25,338.9v4.3M641.86,338.9v4M645.15,338.9v4M647.48,338.9v4M649.29,338.9v4M650.77,338.9v4M652.02,338.9v4M653.1,338.9v4M654.05,338.9v4M654.91,338.9v4.3M660.52,338.9v4M663.81,338.9v4M666.14,338.9v4M667.95,338.9v4M669.43,338.9v4M670.68,338.9v4M671.76,338.9v4M672.71,338.9v4M673.57,338.9v4.3M677.3,338.9v4.3" stroke="#2a2aff" stroke-width="0.95" fill="none"/>
<text class="xb" x="562.2" y="350.6" text-anchor="end">10</text>
<text class="xs" x="561.4" y="348.8">1</text>
<text class="xb" x="580.86" y="350.6" text-anchor="end">10</text>
<text class="xs" x="580.06" y="348.8">2</text>
<text class="xb" x="599.52" y="350.6" text-anchor="end">10</text>
<text class="xs" x="598.72" y="348.8">3</text>
<text class="xb" x="618.18" y="350.6" text-anchor="end">10</text>
<text class="xs" x="617.38" y="348.8">4</text>
<text class="xb" x="636.85" y="350.6" text-anchor="end">10</text>
<text class="xs" x="636.05" y="348.8">5</text>
<text class="xb" x="655.51" y="350.6" text-anchor="end">10</text>
<text class="xs" x="654.71" y="348.8">6</text>
<text class="xb" x="676.1" y="350.6" text-anchor="end">10</text>
<text class="xs" x="675.3" y="348.8">7.2</text>
<text class="ax" letter-spacing="0.45" transform="translate(545.7,293.95) rotate(-90)" text-anchor="middle">Count</text>
<text class="ax" letter-spacing="0.25" x="619.25" y="357.9" text-anchor="middle">FL3-H</text>
<path d="M589.2,296.6H609.6M589.2,290.9v11.4M609.6,290.9v11.4" stroke="#e3283f" stroke-width="1" fill="none"/>
<path d="M610.6,279.2H637M610.6,273.5v11.4M637,273.5v11.4" stroke="#e3283f" stroke-width="1" fill="none"/>
<text class="mk" x="577.8" y="281.9" textLength="9.6" lengthAdjust="spacingAndGlyphs">M1</text>
<text class="mk" x="577.8" y="289.7">15.4%</text>
<text class="mk" x="639" y="269.9" textLength="9.6" lengthAdjust="spacingAndGlyphs">M2</text>
<text class="mk" x="639" y="276.6">83.8%</text>
<path d="M177.5,413.7V568.1 M173.5,564.1H549.5" stroke="#bcbcbc" stroke-width="1" fill="none"/>
<line x1="173.5" y1="564.1" x2="177.5" y2="564.1" stroke="#bcbcbc" stroke-width="1"/>
<text class="by" x="170.7" y="569.6" text-anchor="end">0</text>
<line x1="173.5" y1="534.12" x2="177.5" y2="534.12" stroke="#bcbcbc" stroke-width="1"/>
<text class="by" x="170.7" y="539.62" text-anchor="end">20</text>
<line x1="173.5" y1="504.14" x2="177.5" y2="504.14" stroke="#bcbcbc" stroke-width="1"/>
<text class="by" x="170.7" y="509.64" text-anchor="end">40</text>
<line x1="173.5" y1="474.16" x2="177.5" y2="474.16" stroke="#bcbcbc" stroke-width="1"/>
<text class="by" x="170.7" y="479.66" text-anchor="end">60</text>
<line x1="173.5" y1="444.18" x2="177.5" y2="444.18" stroke="#bcbcbc" stroke-width="1"/>
<text class="by" x="170.7" y="449.68" text-anchor="end">80</text>
<line x1="173.5" y1="414.2" x2="177.5" y2="414.2" stroke="#bcbcbc" stroke-width="1"/>
<text class="by" x="170.7" y="419.7" text-anchor="end">100</text>
<line x1="270.4" y1="564.1" x2="270.4" y2="568.1" stroke="#bcbcbc" stroke-width="1"/>
<line x1="363.3" y1="564.1" x2="363.3" y2="568.1" stroke="#bcbcbc" stroke-width="1"/>
<line x1="456.2" y1="564.1" x2="456.2" y2="568.1" stroke="#bcbcbc" stroke-width="1"/>
<line x1="549.1" y1="564.1" x2="549.1" y2="568.1" stroke="#bcbcbc" stroke-width="1"/>
<text class="bx" x="223.95" y="582.6" text-anchor="middle">0</text>
<rect x="197.3" y="561.3" width="26.7" height="2.8" fill="url(#p1)" stroke="#222" stroke-width="1.2"/>
<rect x="224" y="561.3" width="26.7" height="2.8" fill="url(#p2)" stroke="#222" stroke-width="1.2"/>
<text class="bx" x="316.85" y="582.6" text-anchor="middle">12. 5</text>
<rect x="290.6" y="492.9" width="26.7" height="71.2" fill="url(#p1)" stroke="#222" stroke-width="1.2"/>
<path d="M303.95,490.2V495.6M300.45,490.2h7M300.45,495.6h7" stroke="#1a1a1a" stroke-width="1.25" fill="none"/>
<text class="st" x="303.95" y="490.8" text-anchor="middle">**</text>
<rect x="317.3" y="491.4" width="26.7" height="72.7" fill="url(#p2)" stroke="#222" stroke-width="1.2"/>
<path d="M330.65,487.9V494.9M327.15,487.9h7M327.15,494.9h7" stroke="#1a1a1a" stroke-width="1.25" fill="none"/>
<text class="st" x="330.65" y="488.5" text-anchor="middle">**</text>
<text class="bx" x="409.75" y="582.6" text-anchor="middle">25</text>
<rect x="383.15" y="490.1" width="26.7" height="74" fill="url(#p1)" stroke="#222" stroke-width="1.2"/>
<path d="M396.5,485.9V494.3M393,485.9h7M393,494.3h7" stroke="#1a1a1a" stroke-width="1.25" fill="none"/>
<text class="st" x="396.5" y="486.5" text-anchor="middle">**</text>
<rect x="409.85" y="452.5" width="26.7" height="111.6" fill="url(#p2)" stroke="#222" stroke-width="1.2"/>
<path d="M423.2,450.6V454.4M419.7,450.6h7M419.7,454.4h7" stroke="#1a1a1a" stroke-width="1.25" fill="none"/>
<text class="st" x="423.2" y="451.2" text-anchor="middle">**</text>
<text class="bx" x="502.65" y="582.6" text-anchor="middle">50</text>
<rect x="475.7" y="459.95" width="26.7" height="104.15" fill="url(#p1)" stroke="#222" stroke-width="1.2"/>
<path d="M489.05,455.3V464.6M485.55,455.3h7M485.55,464.6h7" stroke="#1a1a1a" stroke-width="1.25" fill="none"/>
<text class="st" x="489.05" y="455.9" text-anchor="middle">**</text>
<rect x="502.4" y="435.75" width="26.7" height="128.35" fill="url(#p2)" stroke="#222" stroke-width="1.2"/>
<path d="M515.75,433.45V438.05M512.25,433.45h7M512.25,438.05h7" stroke="#1a1a1a" stroke-width="1.25" fill="none"/>
<text class="st" x="515.75" y="434.05" text-anchor="middle">**</text>
<rect x="336.1" y="385.4" width="73.7" height="21" fill="#fff" stroke="#b8b8b8" stroke-width="1"/>
<rect x="341.7" y="392.3" width="9" height="9" fill="#fff" stroke="#222" stroke-width="1.2"/><path d="M342.6,400.4L349.8,393.6" stroke="#333" stroke-width="1.3"/>
<rect x="376.7" y="392.3" width="9" height="9" fill="url(#p2)" stroke="#222" stroke-width="1.2"/>
<text class="lg" x="356" y="401.6">1h</text>
<text class="lg" x="390.4" y="401.6">2h</text>
<text class="mono" transform="translate(144.8,490) rotate(-90)" text-anchor="middle">Cell damage(%)</text>
<text class="mono" x="290.3" y="599.2">[ΔLeu<tspan dx="0.9" dy="-3.6" font-size="7.6">6</tspan><tspan dx="0.95" dy="3.6">]surfactin(ug/mL)</tspan></text>
</g>
</svg>
</body></html>
